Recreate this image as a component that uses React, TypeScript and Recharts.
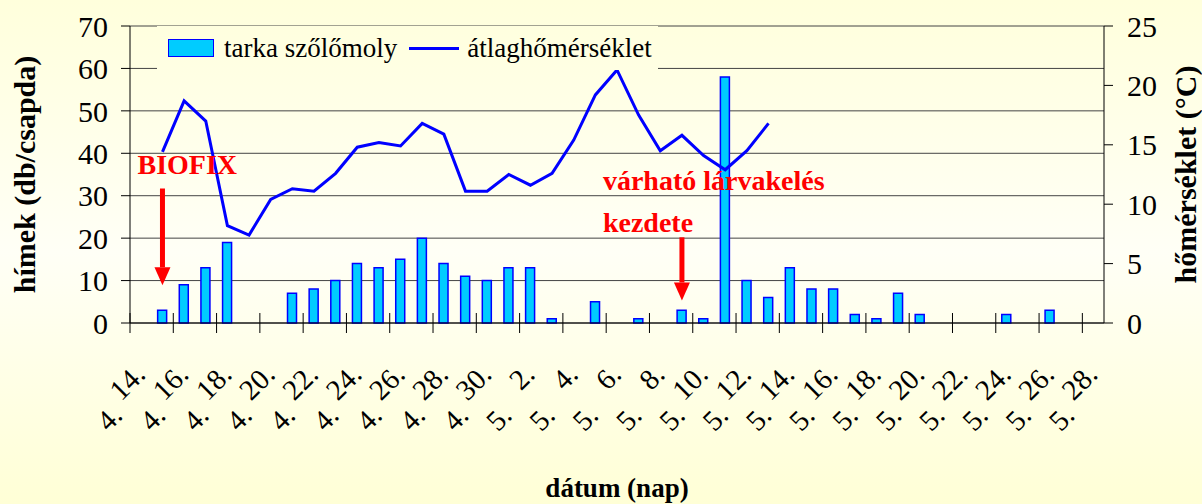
import React from 'react';
import {
  ComposedChart,
  Bar,
  Line,
  XAxis,
  YAxis,
  CartesianGrid,
  Legend,
  ReferenceLine,
} from 'recharts';

// dátumok (április 14 - május 28)
const DATES = [
  '4. 14.', '4. 15.', '4. 16.', '4. 17.', '4. 18.', '4. 19.', '4. 20.', '4. 21.', '4. 22.',
  '4. 23.', '4. 24.', '4. 25.', '4. 26.', '4. 27.', '4. 28.', '4. 29.', '4. 30.',
  '5. 1.', '5. 2.', '5. 3.', '5. 4.', '5. 5.', '5. 6.', '5. 7.', '5. 8.', '5. 9.', '5. 10.',
  '5. 11.', '5. 12.', '5. 13.', '5. 14.', '5. 15.', '5. 16.', '5. 17.', '5. 18.', '5. 19.',
  '5. 20.', '5. 21.', '5. 22.', '5. 23.', '5. 24.', '5. 25.', '5. 26.', '5. 27.', '5. 28.',
];

// tarka szőlőmoly fogás (db/csapda)
const MOTHS = [
  null, 3, 9, 13, 19, null, null, 7, 8, 10, 14, 13, 15, 20, 14, 11, 10,
  13, 13, 1, null, 5, null, 1, null, 3, 1, 58, 10, 6, 13, 8, 8, 2, 1, 7,
  2, null, null, null, 2, null, 3, null, null,
];

// átlaghőmérséklet (°C)
const TEMPS = [
  null, 14.4, 18.7, 17.0, 8.2, 7.4, 10.4, 11.3, 11.1, 12.6, 14.8, 15.2, 14.9, 16.8, 15.9, 11.1, 11.1,
  12.5, 11.6, 12.6, 15.4, 19.2, 21.3, 17.5, 14.5, 15.8, 14.1, 12.9, 14.5, 16.8, null, null, null, null,
  null, null, null, null, null, null, null, null, null, null, null,
];

const LEFT_TICKS = [0, 10, 20, 30, 40, 50, 60, 70];
const RIGHT_TICKS = [0, 5, 10, 15, 20, 25];

const data = DATES.map((d, i) => ({ date: d, moth: MOTHS[i], temp: TEMPS[i] }));

const W = 1202;
const H = 504;
const PLOT_LEFT = 130;
const PLOT_RIGHT = 1104;
const BW = (PLOT_RIGHT - PLOT_LEFT) / DATES.length;
const SERIF = 'Liberation Serif, Times New Roman, DejaVu Serif, serif';
const BG = 'linear-gradient(to bottom, #ffffdc 0%, #fffff6 50%, #ffffd6 100%)';

// Excel tördelt, 45°-ban forgatott dátumcímkéi: "14." felül, "4." alatta
const DateTick = (props: any) => {
  const { x, y, payload } = props;
  const idx = DATES.indexOf(payload.value);
  if (idx % 2 !== 0) return null;
  const [month, day] = String(payload.value).split(' ');
  const tx = x - BW / 2;
  const parts = [
    { t: day, lx: x + 6, ly: y + 53 },
    { t: month, lx: x - 17, ly: y + 94 },
  ];
  return (
    <g>
      <line x1={tx} y1={y - 10} x2={tx} y2={y + 10} stroke="#000" strokeWidth={1} />
      {parts.map((p, i) => (
        <text
          key={i}
          x={p.lx}
          y={p.ly}
          textAnchor="end"
          transform={`rotate(-45 ${p.lx} ${p.ly})`}
          style={{ fontFamily: SERIF }}
          fontSize={29}
          fill="#000"
        >
          {p.t}
        </text>
      ))}
    </g>
  );
};

const vTitle = (text: string, cx: number) => (p: any) => {
  const vb = p.viewBox;
  const cy = vb.y + vb.height / 2;
  return (
    <text
      x={cx}
      y={cy}
      textAnchor="middle"
      transform={`rotate(-90 ${cx} ${cy})`}
      style={{ fontFamily: SERIF, fontWeight: 'bold' }}
      fontSize={30}
      fill="#000"
    >
      {text}
    </text>
  );
};

const xTitle = (p: any) => {
  const vb = p.viewBox;
  return (
    <text
      x={vb.x + vb.width / 2}
      y={497}
      textAnchor="middle"
      style={{ fontFamily: SERIF, fontWeight: 'bold' }}
      fontSize={27}
      fill="#000"
    >
      dátum (nap)
    </text>
  );
};

const arrow = (lines: string[], dx: number, dys: number[]) => (p: any) => {
  const { x1, y1, y2 } = p;
  const head = 18;
  return (
    <g>
      {lines.map((t, i) => (
        <text
          key={i}
          x={x1 + dx}
          y={y1 + dys[i]}
          style={{ fontFamily: SERIF, fontWeight: 'bold' }}
          fontSize={28}
          fill="#ff0000"
        >
          {t}
        </text>
      ))}
      <line x1={x1} y1={y1} x2={x1} y2={y2 - head} stroke="#ff0000" strokeWidth={5} />
      <polygon points={`${x1 - 8},${y2 - head} ${x1 + 8},${y2 - head} ${x1},${y2}`} fill="#ff0000" />
    </g>
  );
};

const LegendBox = () => (
  <div
    style={{
      display: 'flex',
      alignItems: 'center',
      height: 44,
      fontFamily: SERIF,
      fontSize: 27,
      color: '#000',
      background: BG,
      backgroundSize: `${W}px ${H}px`,
      backgroundPosition: '-157px -26px',
    }}
  >
    <span
      style={{
        display: 'inline-block',
        width: 44,
        height: 16,
        background: '#00ccff',
        border: '1.5px solid #0000ff',
        marginLeft: 11,
        marginRight: 10,
      }}
    />
    <span>tarka szőlőmoly</span>
    <span
      style={{
        display: 'inline-block',
        width: 50,
        height: 3,
        background: '#0000ff',
        marginLeft: 12,
        marginRight: 8,
      }}
    />
    <span>átlaghőmérséklet</span>
  </div>
);

export default function App() {
  return (
    <div style={{ position: 'absolute', left: 0, top: 0, width: W, height: H, background: BG }}>
      <ComposedChart
        width={W}
        height={H}
        data={data}
        margin={{ top: 26, right: 0, bottom: 0, left: 0 }}
        barCategoryGap={0}
      >
        <CartesianGrid yAxisId="left" vertical={false} stroke="#444" strokeWidth={1} />
        <XAxis
          dataKey="date"
          interval={0}
          height={181}
          tickSize={0}
          tickMargin={0}
          tickLine={false}
          axisLine={{ stroke: '#000' }}
          tick={<DateTick />}
          label={{ content: xTitle }}
        />
        <YAxis
          yAxisId="left"
          width={130}
          domain={[0, 70]}
          ticks={LEFT_TICKS}
          tickSize={9}
          tickMargin={13}
          tickLine={{ stroke: '#000' }}
          axisLine={{ stroke: '#000' }}
          tick={{ fontFamily: SERIF, fontSize: 30, fill: '#000' }}
          label={{ content: vTitle('hímek (db/csapda)', 35) }}
        />
        <YAxis
          yAxisId="right"
          orientation="right"
          width={98}
          domain={[0, 25]}
          ticks={RIGHT_TICKS}
          tickSize={9}
          tickMargin={14}
          tickLine={{ stroke: '#000' }}
          axisLine={{ stroke: '#000' }}
          tick={{ fontFamily: SERIF, fontSize: 30, fill: '#000' }}
          label={{ content: vTitle('hőmérséklet (°C)', 1196) }}
        />
        <Legend
          layout="horizontal"
          verticalAlign="middle"
          align="center"
          wrapperStyle={{ left: 157, top: 26, width: 501, height: 44 }}
          content={<LegendBox />}
        />
        <Bar
          yAxisId="left"
          dataKey="moth"
          barSize={9}
          fill="#00ccff"
          stroke="#0000ff"
          strokeWidth={1.5}
          isAnimationActive={false}
        />
        <Line
          yAxisId="right"
          dataKey="temp"
          type="linear"
          stroke="#0000ff"
          strokeWidth={3}
          dot={false}
          activeDot={false}
          isAnimationActive={false}
        />
        <ReferenceLine
          yAxisId="left"
          segment={[{ x: '4. 15.', y: 31.7 }, { x: '4. 15.', y: 8.9 }]}
          shape={arrow(['BIOFIX'], -25, [-15])}
        />
        <ReferenceLine
          yAxisId="left"
          segment={[{ x: '5. 9.', y: 20.2 }, { x: '5. 9.', y: 5.3 }]}
          shape={arrow(['várható lárvakelés', 'kezdete'], -79, [-47, -5])}
        />
      </ComposedChart>
    </div>
  );
}
